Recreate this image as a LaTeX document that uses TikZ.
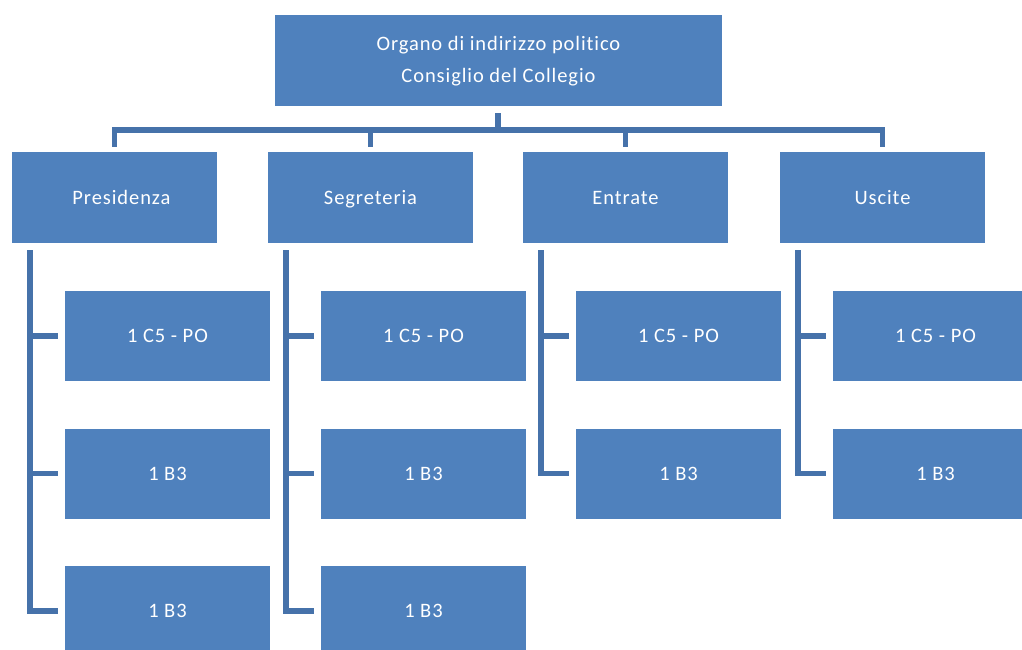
\documentclass[tikz,border=0pt]{standalone}
\usepackage{fontspec}
\setmainfont{Carlito}[LetterSpace=4.5,Ligatures={NoCommon}]
\definecolor{boxblue}{HTML}{4F81BD}
\definecolor{lineblue}{HTML}{4672AA}
\begin{document}
\begin{tikzpicture}[x=1pt,y=-1pt,
  orgbox/.style={fill=boxblue, draw=none, minimum width=205pt, minimum height=91pt, inner sep=0pt,
    text=white, font=\fontsize{20.5}{20}\selectfont, align=center, text height=13pt, text depth=0pt},
  conn/.style={draw=lineblue, line width=5.5pt, line cap=butt, line join=miter}]
\useasboundingbox (0,0) rectangle (1022,650);
\fill[white] (0,0) rectangle (1022,650);
% top
\node[orgbox, minimum width=447pt, font=\fontsize{20.5}{32}\selectfont, text height=45pt, text depth=0pt] (top) at (498.5,60.5) {Organo di indirizzo politico\\Consiglio del Collegio};
% level 2
\node[orgbox] (pres) at (114.5,197.5) {\hspace*{14pt}Presidenza};
\node[orgbox] (seg)  at (370.5,197.5) {Segreteria};
\node[orgbox] (ent)  at (625.5,197.5) {Entrate};
\node[orgbox] (usc)  at (882.5,197.5) {Uscite};
% children
\node[orgbox, minimum height=90pt] (p1) at (167.5,336) {1 C5 - PO};
\node[orgbox, minimum height=90pt] (p2) at (167.5,473.5) {1 B3};
\node[orgbox, minimum height=90pt] (p3) at (167.5,611) {1 B3};
\node[orgbox, minimum height=90pt] (s1) at (423.5,336) {1 C5 - PO};
\node[orgbox, minimum height=90pt] (s2) at (423.5,473.5) {1 B3};
\node[orgbox, minimum height=90pt] (s3) at (423.5,611) {1 B3};
\node[orgbox, minimum height=90pt] (e1) at (678.5,336) {1 C5 - PO};
\node[orgbox, minimum height=90pt] (e2) at (678.5,473.5) {1 B3};
\node[orgbox, minimum height=90pt] (u1) at (935.5,336) {1 C5 - PO};
\node[orgbox, minimum height=90pt] (u2) at (935.5,473.5) {1 B3};
% top connectors
\coordinate (hub) at (498,130);
\draw[conn] ([yshift=-7pt]top.south -| hub) -- (hub);
\draw[conn] ([yshift=5pt]pres.north) |- (hub) -| ([yshift=5pt]usc.north);
\draw[conn] (hub -| seg.north) -- ([yshift=5pt]seg.north);
\draw[conn] (hub -| ent.north) -- ([yshift=5pt]ent.north);
% child connectors
\coordinate (pv) at ([xshift=18pt,yshift=-7pt]pres.south west);
\coordinate (sv) at ([xshift=18pt,yshift=-7pt]seg.south west);
\coordinate (ev) at ([xshift=18pt,yshift=-7pt]ent.south west);
\coordinate (uv) at ([xshift=18pt,yshift=-7pt]usc.south west);
\draw[conn] (pv) |- ([xshift=-7pt]p3.west);
\draw[conn] (pv |- p1.west) -- ([xshift=-7pt]p1.west);
\draw[conn] (pv |- p2.west) -- ([xshift=-7pt]p2.west);
\draw[conn] (sv) |- ([xshift=-7pt]s3.west);
\draw[conn] (sv |- s1.west) -- ([xshift=-7pt]s1.west);
\draw[conn] (sv |- s2.west) -- ([xshift=-7pt]s2.west);
\draw[conn] (ev) |- ([xshift=-7pt]e2.west);
\draw[conn] (ev |- e1.west) -- ([xshift=-7pt]e1.west);
\draw[conn] (uv) |- ([xshift=-7pt]u2.west);
\draw[conn] (uv |- u1.west) -- ([xshift=-7pt]u1.west);
\end{tikzpicture}
\end{document}
